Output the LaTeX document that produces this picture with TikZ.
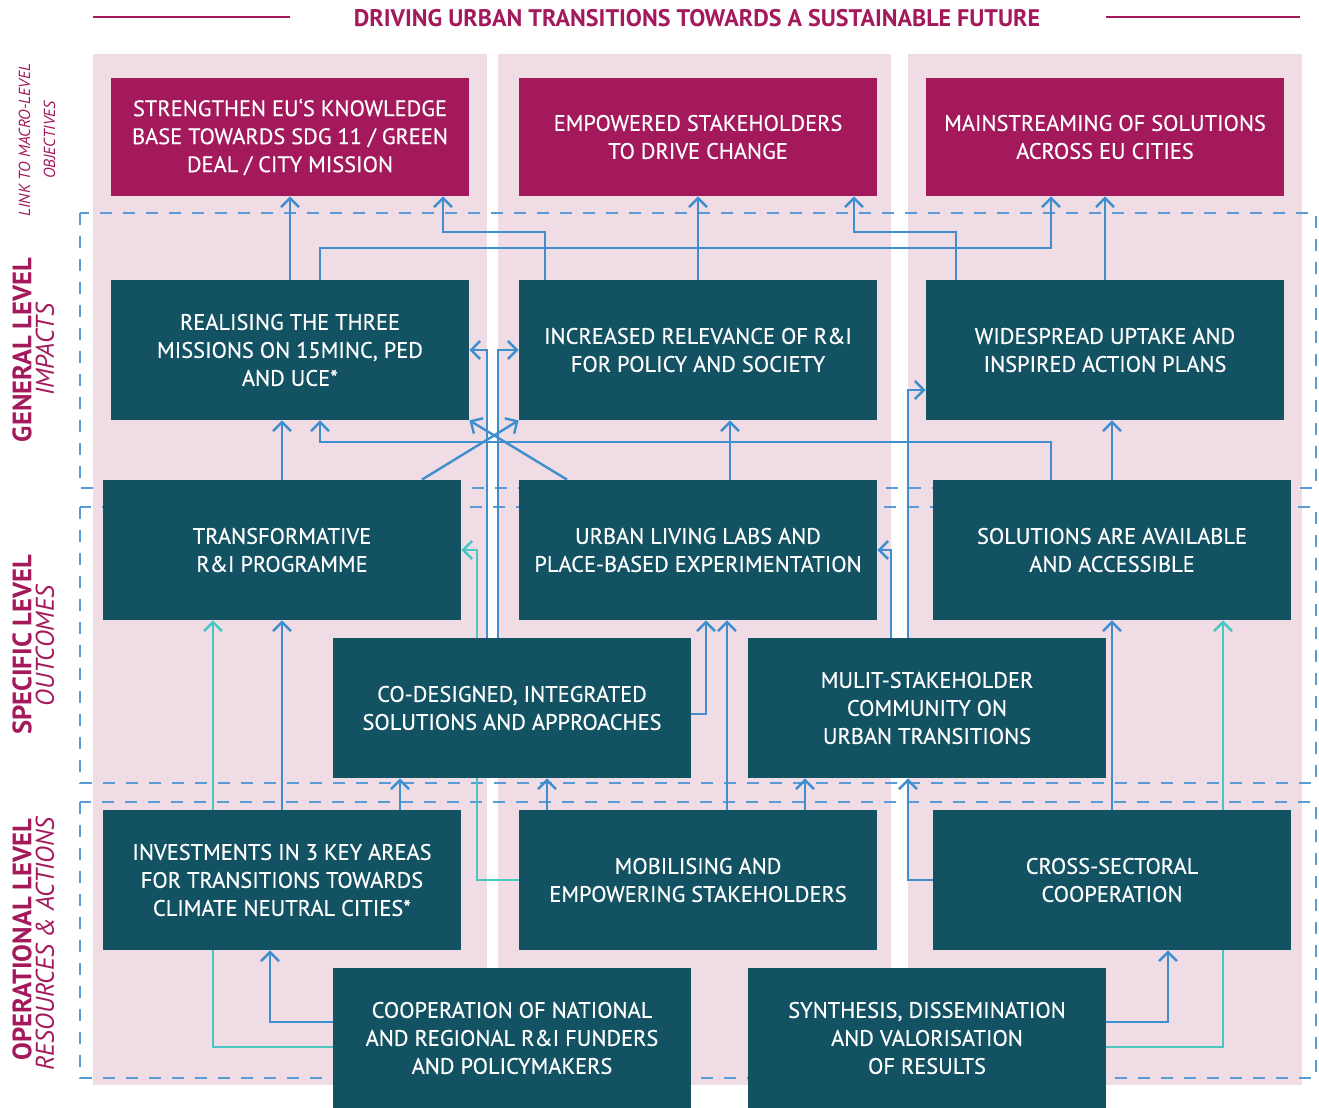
\documentclass[tikz,border=0pt]{standalone}
\usepackage{fontspec}
\setmainfont{PT Sans}
\newfontfamily\boxfont{PT Sans}[FakeBold=0.4]
\usetikzlibrary{arrows.meta}

\definecolor{mission}{HTML}{A3195B}
\definecolor{boxteal}{HTML}{125263}
\definecolor{colpink}{HTML}{F0DCE5}
\definecolor{linkblue}{HTML}{3F8FCF}
\definecolor{linkaqua}{HTML}{4AC6C2}
\definecolor{framedash}{HTML}{5B9BD5}

\pgfdeclarelayer{background}
\pgfsetlayers{background,main}

\tikzset{
  objbox/.style={fill=mission, text=white, minimum width=179pt, minimum height=59pt,
    inner sep=0pt, align=center, font=\boxfont\fontsize{11.2}{14}\selectfont},
  levelbox/.style={fill=boxteal, text=white, minimum width=179pt, minimum height=70pt,
    inner sep=0pt, align=center, font=\boxfont\fontsize{11.2}{14}\selectfont},
  levelname/.style={rotate=90, text=mission, font=\fontsize{13.3}{13}\bfseries},
  levelsub/.style={rotate=90, text=mission, font=\fontsize{12.8}{13}\itshape},
  blueflow/.style={draw=linkblue, line width=1.2pt, -{Straight Barb[length=4.5pt,width=9pt]}},
  aquaflow/.style={draw=linkaqua, line width=1.2pt, -{Straight Barb[length=4.5pt,width=9pt]}},
  levelframe/.style={draw=framedash, line width=0.7pt, dash pattern=on 6pt off 5.5pt}
}

\begin{document}
\begin{tikzpicture}[x=0.5pt, y=-0.5pt]
  \useasboundingbox (0,0) rectangle (1319,1108);

  % Title
  \node (title) at (697,18) [text=mission, font=\fontsize{12}{12}\bfseries] {DRIVING URBAN TRANSITIONS TOWARDS A SUSTAINABLE FUTURE};
  \draw[mission, line width=1pt] (93,17) -- (290,17);
  \draw[mission, line width=1pt] (1106,17) -- (1300,17);

  % Level labels (left)
  \node (linklbl) at (37,140) [rotate=90, align=center, text=mission, font=\fontsize{8}{12.5}\itshape] {LINK TO MACRO-LEVEL\\OBJECTIVES};
  \node (genlbl) at (22,350) [levelname] {GENERAL LEVEL};
  \node (genSub) at (45,350) [levelsub] {IMPACTS};
  \node (spelbl) at (22,645) [levelname] {SPECIFIC LEVEL};
  \node (speSub) at (45,646) [levelsub] {OUTCOMES};
  \node (oplbl) at (22,940) [levelname] {OPERATIONAL LEVEL};
  \node (opSub) at (45,944) [levelsub] {RESOURCES \& ACTIONS};

  % Macro-level objectives
  \node (T1) at (290,137) [objbox] {STRENGTHEN EU‘S KNOWLEDGE\\BASE TOWARDS SDG 11 / GREEN\\DEAL / CITY MISSION};
  \node (T2) at (698,137) [objbox] {EMPOWERED STAKEHOLDERS\\TO DRIVE CHANGE};
  \node (T3) at (1105,137) [objbox] {MAINSTREAMING OF SOLUTIONS\\ACROSS EU CITIES};

  % General level
  \node (G1) at (290,350) [levelbox] {REALISING THE THREE\\MISSIONS ON 15MINC, PED\\AND UCE*};
  \node (G2) at (698,350) [levelbox] {INCREASED RELEVANCE OF R\&I\\FOR POLICY AND SOCIETY};
  \node (G3) at (1105,350) [levelbox] {WIDESPREAD UPTAKE AND\\INSPIRED ACTION PLANS};

  % Specific level
  \node (S1) at (282,550) [levelbox] {TRANSFORMATIVE\\R\&I PROGRAMME};
  \node (S2) at (698,550) [levelbox] {URBAN LIVING LABS AND\\PLACE-BASED EXPERIMENTATION};
  \node (S3) at (1112,550) [levelbox] {SOLUTIONS ARE AVAILABLE\\AND ACCESSIBLE};
  \node (S4) at (512,708) [levelbox] {CO-DESIGNED, INTEGRATED\\SOLUTIONS AND APPROACHES};
  \node (S5) at (927,708) [levelbox] {MULIT-STAKEHOLDER\\COMMUNITY ON\\URBAN TRANSITIONS};

  % Operational level
  \node (P1) at (282,880) [levelbox] {INVESTMENTS IN 3 KEY AREAS\\FOR TRANSITIONS TOWARDS\\CLIMATE NEUTRAL CITIES*};
  \node (P2) at (698,880) [levelbox] {MOBILISING AND\\EMPOWERING STAKEHOLDERS};
  \node (P3) at (1112,880) [levelbox] {CROSS-SECTORAL\\COOPERATION};
  \node (P4) at (512,1038) [levelbox] {COOPERATION OF NATIONAL\\AND REGIONAL R\&I FUNDERS\\AND POLICYMAKERS};
  \node (P5) at (927,1038) [levelbox] {SYNTHESIS, DISSEMINATION\\AND VALORISATION\\OF RESULTS};

  \begin{pgfonlayer}{background}
    % Columns
    \fill[colpink] (93,54) rectangle (487,1085);
    \fill[colpink] (498,54) rectangle (891,1085);
    \fill[colpink] (908,54) rectangle (1302,1085);

    % Level frames
    \draw[levelframe] (80,213) rectangle (1316,488);
    \draw[levelframe] (80,507) rectangle (1316,783);
    \draw[levelframe] (80,802) rectangle (1316,1078);

    % General -> objectives
    \draw[blueflow] (G1.north) -- (T1.south);
    \draw[blueflow] (G1.north -| 320,0) -- (320,248) -| (T3.south -| 1051,0);
    \draw[blueflow] (G2.north -| 545,0) -- (545,232) -| (T1.south -| 443,0);
    \draw[blueflow] (G2.north) -- (T2.south);
    \draw[blueflow] (G3.north -| 956,0) -- (956,232) -| (T2.south -| 854,0);
    \draw[blueflow] (G3.north) -- (T3.south);

    % Specific -> general
    \draw[blueflow] (S1.north) -- (G1.south -| 282,0);
    \draw[blueflow] (S3.north -| 1051,0) -- (1051,442) -| (G1.south -| 320,0);
    \draw[blueflow] (S2.north -| 730,0) -- (G2.south -| 730,0);
    \draw[blueflow] (S3.north) -- (G3.south -| 1112,0);
    \draw[blueflow] (S1.north -| 422,0) -- (G2.south west);
    \draw[blueflow] (S2.north -| 567,0) -- (G1.south east);
    \draw[blueflow] (S4.north -| 487,0) |- (G1.east);
    \draw[blueflow] (S4.north -| 498,0) |- (G2.west);
    \draw[blueflow] (S5.north -| 908,0) |- (G3.west |- 0,390);
    \draw[blueflow] (S5.north -| 891,0) |- (S2.east);
    \draw[blueflow] (S4.east |- 0,714) -| (S2.south -| 706,0);

    % Operational -> specific
    \draw[aquaflow] (P2.west) -| (477,550) -- (S1.east);
    \draw[blueflow] (P2.north -| 727,0) -- (S2.south -| 727,0);
    \draw[blueflow] (P2.north -| 547,0) -- (S4.south -| 547,0);
    \draw[blueflow] (P2.north -| 805,0) -- (S5.south -| 805,0);
    \draw[blueflow] (P1.north) -- (S1.south);
    \draw[blueflow] (P1.north -| 400,0) -- (S4.south -| 400,0);
    \draw[blueflow] (P3.north) -- (S3.south);
    \draw[aquaflow] (P4.west |- 0,1047) -| (S1.south -| 213,0);
    \draw[aquaflow] (P5.east |- 0,1047) -| (S3.south -| 1223,0);
    \draw[blueflow] (P3.west) -| (S5.south -| 908,0);
    \draw[blueflow] (P4.west |- 0,1022) -| (P1.south -| 270,0);
    \draw[blueflow] (P5.east |- 0,1022) -| (P3.south -| 1168,0);
  \end{pgfonlayer}
\end{tikzpicture}
\end{document}
